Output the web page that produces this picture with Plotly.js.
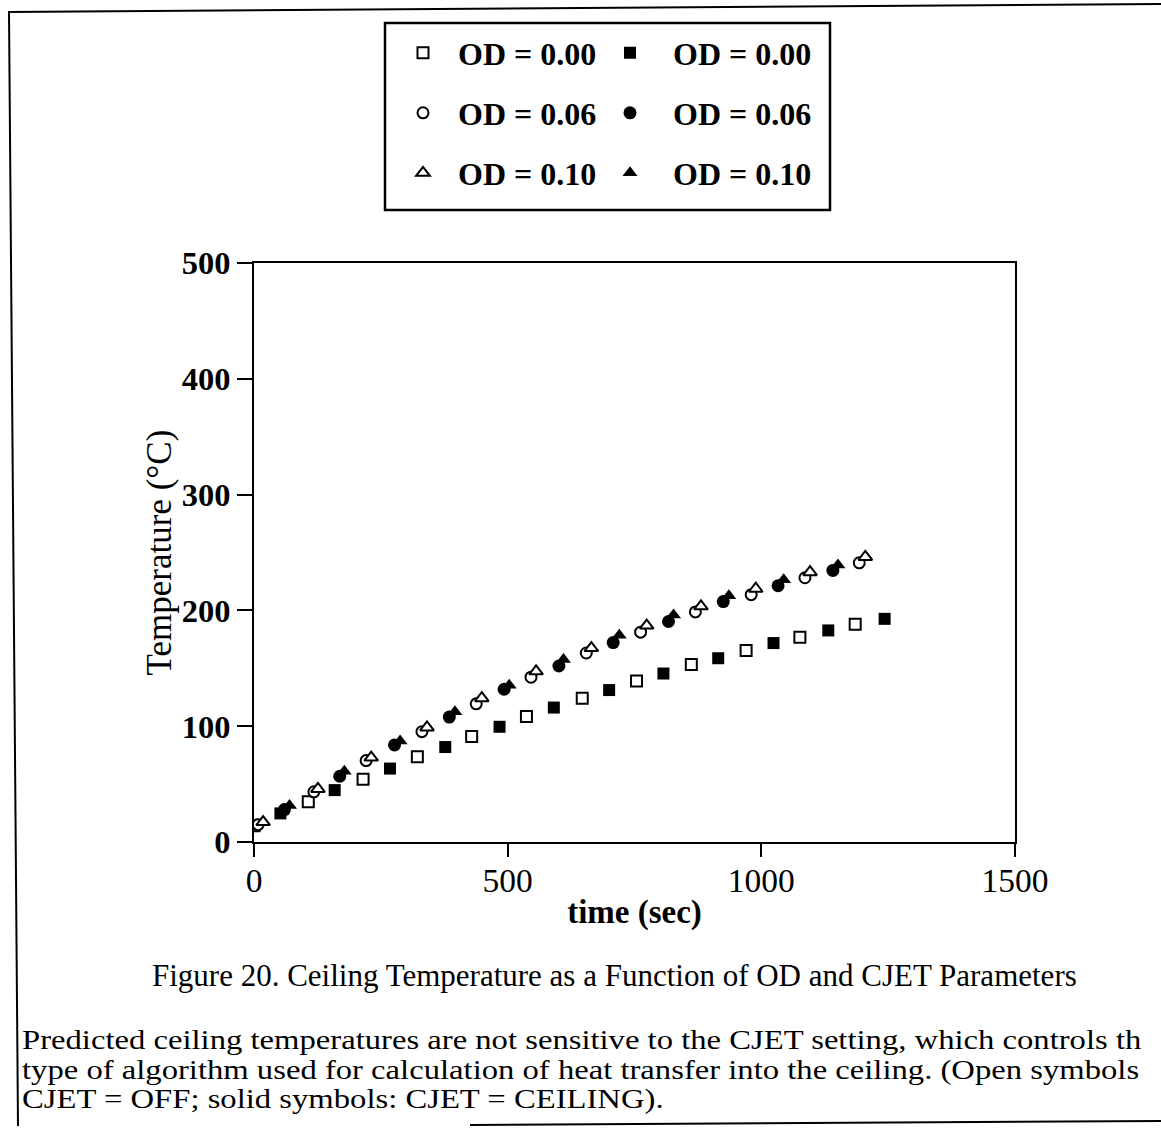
<!DOCTYPE html>
<html>
<head>
<meta charset="utf-8">
<script src="https://cdn.plot.ly/plotly-3.0.1.min.js"></script>
<style>
  html, body { margin: 0; padding: 0; background: #ffffff; }
  #chart { width: 1161px; height: 1129px; }
  /* wider setting for the explanatory paragraph under the figure */
  .annotation[data-index="1"] text,
  .annotation[data-index="2"] text,
  .annotation[data-index="3"] text {
    transform-box: fill-box;
    transform-origin: 0 50%;
    transform: scaleX(1.21);
  }
</style>
</head>
<body>
<div id="chart"></div>
<script>
// Ceiling temperature (°C) against time (s) for three OD values.
// Open symbols: CJET = OFF, solid symbols: CJET = CEILING.
const timeOpen00 = [0, 107, 215, 322, 429, 537, 647, 754, 862, 970, 1076, 1185];
const tempOpen00 = [14, 34.7, 54.2, 73.6, 91.2, 108.3, 124.1, 139, 153.3, 165.4, 176.8, 188];

const timeOpen06 = [8, 118, 221, 331, 438, 546, 655, 762, 870, 980, 1086, 1193];
const tempOpen06 = [15, 43.3, 70.3, 95.3, 119.3, 142.3, 163.2, 181.2, 198.7, 213.6, 228.2, 241.1];

const timeOpen10 = [18, 126, 231, 341, 449, 556, 665, 774, 881, 989, 1096, 1205];
const tempOpen10 = [17.2, 45.8, 72.9, 98.9, 124.2, 147.4, 167.5, 186.9, 203.5, 218.7, 233, 246.2];

const timeSolid00 = [52, 159, 268, 377, 484, 591, 700, 807, 915, 1024, 1132, 1243];
const tempSolid00 = [24.7, 44.8, 63.4, 82, 99.5, 116.1, 131.2, 145.5, 158.7, 171.8, 182.7, 192.7];

const timeSolid06 = [60, 169, 277, 385, 493, 601, 708, 817, 925, 1033, 1141];
const tempSolid06 = [28, 56.8, 83.8, 107.9, 131.9, 152, 172.2, 190.4, 207.6, 221.3, 234.5];

const timeSolid10 = [70, 178, 288, 396, 503, 610, 720, 827, 936, 1044, 1151];
const tempSolid10 = [31.5, 61.1, 87.2, 112.4, 135.3, 157.7, 178.6, 196.1, 212.7, 226.4, 239.3];

const legendLabels = ['OD = 0.00', 'OD = 0.06', 'OD = 0.10'];
const xTicks = [0, 500, 1000, 1500];
const yTicks = [0, 100, 200, 300, 400, 500];

const captionTitle = 'Figure 20. Ceiling Temperature as a Function of OD and CJET Parameters';
const captionLines = [
  'Predicted ceiling temperatures are not sensitive to the CJET setting, which controls th',
  'type of algorithm used for calculation of heat transfer into the ceiling. (Open symbols',
  'CJET = OFF; solid symbols: CJET = CEILING).'
];

// Page geometry (px) and helpers converting page pixels to paper coordinates.
const FIG_W = 1161, FIG_H = 1129;
const M = { l: 254, r: 146, t: 263, b: 287 };
const PW = FIG_W - M.l - M.r;
const PH = FIG_H - M.t - M.b;
const px = x => (x - M.l) / PW;
const py = y => (FIG_H - M.b - y) / PH;

const SERIF = 'Liberation Serif, Times New Roman, serif';

function openTrace(x, y, symbol, label, legendId, size) {
  return {
    type: 'scatter', mode: 'markers', x: x, y: y, name: label,
    legend: legendId,
    marker: { symbol: symbol, size: size, color: '#ffffff', line: { color: '#000000', width: 2 } }
  };
}
function solidTrace(x, y, symbol, label, legendId, size) {
  return {
    type: 'scatter', mode: 'markers', x: x, y: y, name: label,
    legend: legendId,
    marker: { symbol: symbol, size: size, color: '#000000', line: { color: '#000000', width: 0 } }
  };
}

const traces = [
  openTrace(timeOpen00, tempOpen00, 'square', legendLabels[0], 'legend', 11),
  solidTrace(timeSolid00, tempSolid00, 'square', legendLabels[0], 'legend2', 12),
  openTrace(timeOpen06, tempOpen06, 'circle', legendLabels[1], 'legend3', 11),
  solidTrace(timeSolid06, tempSolid06, 'circle', legendLabels[1], 'legend4', 13),
  openTrace(timeOpen10, tempOpen10, 'triangle-up', legendLabels[2], 'legend5', 12),
  solidTrace(timeSolid10, tempSolid10, 'triangle-up', legendLabels[2], 'legend6', 13)
];

// One legend per entry so the two columns and three rows sit inside one box.
const legendCols = [{ left: 388, item: 60 }, { left: 587, item: 76 }];
const legendRows = [53, 113, 173];
function legendAt(col, row) {
  return {
    x: px(legendCols[col].left), y: py(legendRows[row]),
    xanchor: 'left', yanchor: 'middle',
    bgcolor: 'rgba(0,0,0,0)', borderwidth: 0,
    itemwidth: legendCols[col].item, itemsizing: 'trace',
    font: { family: SERIF, size: 32, color: '#000000', weight: 'bold' }
  };
}

const lineShape = (x0, y0, x1, y1, w) => ({
  type: 'line', xref: 'paper', yref: 'paper',
  x0: px(x0), y0: py(y0), x1: px(x1), y1: py(y1),
  line: { color: '#000000', width: w }
});

const layout = {
  width: FIG_W, height: FIG_H,
  margin: M,
  paper_bgcolor: '#ffffff', plot_bgcolor: '#ffffff',
  showlegend: true,
  legend: legendAt(0, 0),
  legend2: legendAt(1, 0),
  legend3: legendAt(0, 1),
  legend4: legendAt(1, 1),
  legend5: legendAt(0, 2),
  legend6: legendAt(1, 2),
  xaxis: {
    range: [0, 1500], tickvals: xTicks, ticktext: xTicks.map(String),
    showgrid: false, zeroline: false,
    showline: true, linecolor: '#000000', linewidth: 2, mirror: true,
    ticks: 'outside', ticklen: 13, tickwidth: 2, tickcolor: '#000000',
    ticklabelstandoff: -5,
    tickfont: { family: SERIF, size: 33.5, color: '#000000' },
    title: { text: '<b>time (sec)</b>', font: { family: SERIF, size: 33, color: '#000000' }, standoff: 2 },
    automargin: false
  },
  yaxis: {
    range: [0, 500], tickvals: yTicks, ticktext: yTicks.map(v => '<b>' + v + '</b>'),
    showgrid: false, zeroline: false,
    showline: true, linecolor: '#000000', linewidth: 2, mirror: true,
    ticks: 'outside', ticklen: 15, tickwidth: 2, tickcolor: '#000000',
    tickfont: { family: SERIF, size: 32.5, color: '#000000' },
    title: { text: 'Temperature (°C)', font: { family: SERIF, size: 35, color: '#000000' }, standoff: 0 },
    automargin: false
  },
  shapes: [
    // legend frame
    { type: 'rect', xref: 'paper', yref: 'paper',
      x0: px(385), y0: py(23), x1: px(830), y1: py(210),
      line: { color: '#000000', width: 2.5 }, fillcolor: 'rgba(0,0,0,0)' },
    // page frame
    lineShape(8, 12, 1161, 4, 2),
    lineShape(9, 12, 18, 1126, 2),
    lineShape(470, 1125, 1161, 1121, 2)
  ],
  annotations: [
    { xref: 'paper', yref: 'paper', x: px(614), y: py(975), xanchor: 'center', yanchor: 'middle',
      text: captionTitle, showarrow: false,
      font: { family: SERIF, size: 31, color: '#000000' } }
  ].concat(captionLines.map((t, i) => ({
      xref: 'paper', yref: 'paper', x: px(20), y: py(1040 + i * 29.5),
      xanchor: 'left', yanchor: 'middle', align: 'left',
      text: t, showarrow: false,
      font: { family: SERIF, size: 27, color: '#000000' }
  })))
};

Plotly.newPlot('chart', traces, layout, { staticPlot: true, displayModeBar: false });
</script>
</body>
</html>
